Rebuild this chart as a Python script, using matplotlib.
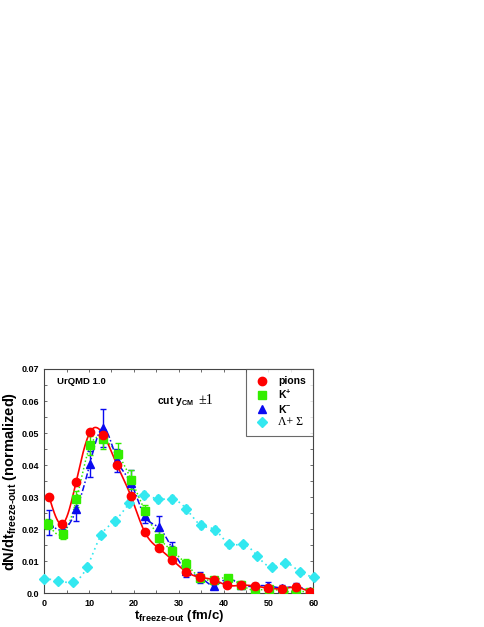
import numpy as np
import matplotlib
matplotlib.use("Agg")
import matplotlib.pyplot as plt
from matplotlib.ticker import MultipleLocator

plt.rcParams['font.family'] = ['Liberation Sans', 'DejaVu Sans']
plt.rcParams['font.weight'] = 'bold'
plt.rcParams['axes.labelweight'] = 'bold'
plt.rcParams['mathtext.fontset'] = 'custom'
plt.rcParams['mathtext.rm'] = 'Liberation Sans:bold'
plt.rcParams['mathtext.it'] = 'Liberation Sans:bold'
plt.rcParams['mathtext.bf'] = 'Liberation Sans:bold'

# values
t_pi = [1.1, 4.0, 7.1, 10.2, 13.2, 16.3, 19.3, 22.4, 25.5, 28.6,
        31.6, 34.7, 37.8, 40.8, 43.9, 46.9, 50.0, 53.0, 56.1, 59.2]
pions = [0.0302, 0.0216, 0.0346, 0.0502, 0.0495, 0.0399, 0.0305, 0.0192, 0.0141, 0.0104,
         0.0068, 0.0050, 0.0042, 0.0025, 0.0025, 0.0023, 0.0016, 0.0015, 0.0019, 0.0005]

t_kp = [0.9, 4.1, 7.2, 10.3, 13.2, 16.4, 19.4, 22.5, 25.6, 28.6,
        31.7, 34.8, 37.8, 40.9, 43.9, 47.0, 50.1, 53.2, 56.2, 59.3]
kplus = [0.0216, 0.0185, 0.0294, 0.0462, 0.0481, 0.0435, 0.0355, 0.0256, 0.0174, 0.0132,
         0.0091, 0.0049, 0.0042, 0.0048, 0.0027, 0.0009, 0.0015, 0.0006, 0.0006, 0.0004]
kplus_err = [0.0015, 0.0015, 0.0025, 0.003, 0.003, 0.0035, 0.003, 0.002, 0.002, 0.0015,
             0.0015, 0.001, 0.001, 0.001, 0.001, 0.0008, 0.0008, 0.0008, 0.0008, 0.0005]

t_km = [1.0, 4.1, 7.2, 10.2, 13.2, 16.3, 19.4, 22.4, 25.5, 28.6,
        31.6, 34.8, 37.8, 40.8, 43.9, 47.0, 50.0, 53.1, 56.1, 59.2]
kminus = [0.0221, 0.0198, 0.0262, 0.0404, 0.0516, 0.0415, 0.0343, 0.0241, 0.0206, 0.0138,
          0.0071, 0.0050, 0.0024, 0.0046, 0.0026, 0.0023, 0.0023, 0.0017, 0.0021, 0.0006]
kminus_err = [0.0038, 0.0017, 0.0035, 0.004, 0.0058, 0.0035, 0.0043, 0.0022, 0.0034, 0.0023,
              0.0019, 0.0017, 0.001, 0.001, 0.001, 0.001, 0.0013, 0.001, 0.001, 0.0005]

t_ls = [0.0, 3.2, 6.4, 9.6, 12.7, 15.8, 19.0, 22.2, 25.4, 28.6,
        31.7, 34.9, 38.1, 41.3, 44.4, 47.5, 50.7, 53.8, 57.0, 60.1]
lamsig = [0.0045, 0.0040, 0.0035, 0.0083, 0.0182, 0.0226, 0.0281, 0.0307, 0.0294, 0.0294,
          0.0263, 0.0213, 0.0198, 0.0153, 0.0153, 0.0117, 0.0082, 0.0095, 0.0067, 0.0051]
lamsig_err = [0.0008, 0.0008, 0.0008, 0.001, 0.001, 0.0012, 0.0012, 0.0012, 0.0012, 0.0012,
              0.0012, 0.0012, 0.0012, 0.001, 0.001, 0.001, 0.001, 0.001, 0.0008, 0.0008]

labels = ['pions', 'K$^{+}$', 'K$^{-}$', 'Λ+ Σ']


def spline(x, y, n=400):
    # natural cubic spline, only used to draw the smooth guide lines
    x = np.asarray(x, float)
    y = np.asarray(y, float)
    h = np.diff(x)
    m = len(x)
    A = np.zeros((m, m))
    b = np.zeros(m)
    A[0, 0] = A[-1, -1] = 1
    for i in range(1, m - 1):
        A[i, i - 1] = h[i - 1]
        A[i, i] = 2 * (h[i - 1] + h[i])
        A[i, i + 1] = h[i]
        b[i] = 6 * ((y[i + 1] - y[i]) / h[i] - (y[i] - y[i - 1]) / h[i - 1])
    M = np.linalg.solve(A, b)
    xs = np.linspace(x[0], x[-1], n)
    k = np.clip(np.searchsorted(x, xs) - 1, 0, m - 2)
    dx1 = x[k + 1] - xs
    dx0 = xs - x[k]
    ys = (M[k] * dx1**3 + M[k + 1] * dx0**3) / (6 * h[k]) \
        + (y[k] / h[k] - M[k] * h[k] / 6) * dx1 + (y[k + 1] / h[k] - M[k + 1] * h[k] / 6) * dx0
    return xs, ys


red = '#ff0000'
green = '#33ee00'
blue = '#0a0af0'
cyan = '#33e8f0'

fig = plt.figure(figsize=(4.85, 6.27), dpi=100)
ax = fig.add_axes([0.091, 0.0537, 0.555, 0.3578])

ax.plot(*spline(t_ls, lamsig), color=cyan, ls=(0, (1, 2.2)), lw=1.2)
ax.plot(*spline(t_kp, kplus), color=green, ls=(0, (1, 1.5)), lw=1.1)
ax.plot(*spline(t_km, kminus), color=blue, ls=(0, (4, 1.5, 1, 1.5)), lw=1.1)
ax.plot(*spline(t_pi, pions), color=red, ls='-', lw=1.2)

h_ls = ax.errorbar(t_ls, lamsig, yerr=lamsig_err, fmt='D', color=cyan, ms=5, elinewidth=1,
                   capsize=1.5, clip_on=False, zorder=3)
h_km = ax.errorbar(t_km, kminus, yerr=kminus_err, fmt='^', color=blue, ms=5.5, elinewidth=1,
                   capsize=2, zorder=4)
h_kp = ax.errorbar(t_kp, kplus, yerr=kplus_err, fmt='s', color=green, ms=5.5, elinewidth=1,
                   capsize=2, zorder=4)
h_pi, = ax.plot(t_pi, pions, 'o', color=red, ms=6, zorder=5)

ax.set_xlim(0, 60)
ax.set_ylim(0, 0.07)
ax.xaxis.set_major_locator(MultipleLocator(10))
ax.xaxis.set_minor_locator(MultipleLocator(5))
ax.yaxis.set_major_locator(MultipleLocator(0.01))
ax.yaxis.set_minor_locator(MultipleLocator(0.005))
ax.yaxis.set_major_formatter(lambda v, p: '0.0' if abs(v) < 1e-9 else '%.2f' % v)
ax.tick_params(which='both', direction='in', top=True, right=True, length=2.5,
               width=0.6, labelsize=6.5, color='#555555')
ax.tick_params(axis='y', pad=3.4)
ax.tick_params(axis='x', pad=4.2)
for s in ax.spines.values():
    s.set_color('#444444')
    s.set_linewidth(0.8)

ax.set_xlabel(r't$_{\mathrm{freeze\text{-}out}}$ (fm/c)', fontsize=9.5, labelpad=0)
ax.set_ylabel(r'dN/dt$_{\mathrm{freeze\text{-}out}}$ (normalized)', fontsize=10.5, labelpad=2)

ax.text(2.8, 0.0662, 'UrQMD 1.0', fontsize=6.8, va='center')
ax.text(25.1, 0.0601, r'cut y$_{\mathrm{CM}}$', fontsize=7.5, va='center')
ax.text(34.3, 0.0603, '±1', fontsize=10, va='center', family='Liberation Serif',
        weight='normal')

leg = ax.legend([h_pi, h_kp[0], h_km[0], h_ls[0]], labels,
                loc='upper right', borderaxespad=0, fontsize=7.5, frameon=True, fancybox=False,
                handlelength=1.6, handletextpad=0.8, labelspacing=0.15,
                borderpad=0.7, edgecolor='#444444')
leg.get_frame().set_linewidth(0.8)
leg.get_texts()[3].set_family('Liberation Serif')
leg.get_texts()[3].set_weight('normal')
leg.get_texts()[3].set_fontsize(8.5)

fig.savefig('out.png', dpi=100)
